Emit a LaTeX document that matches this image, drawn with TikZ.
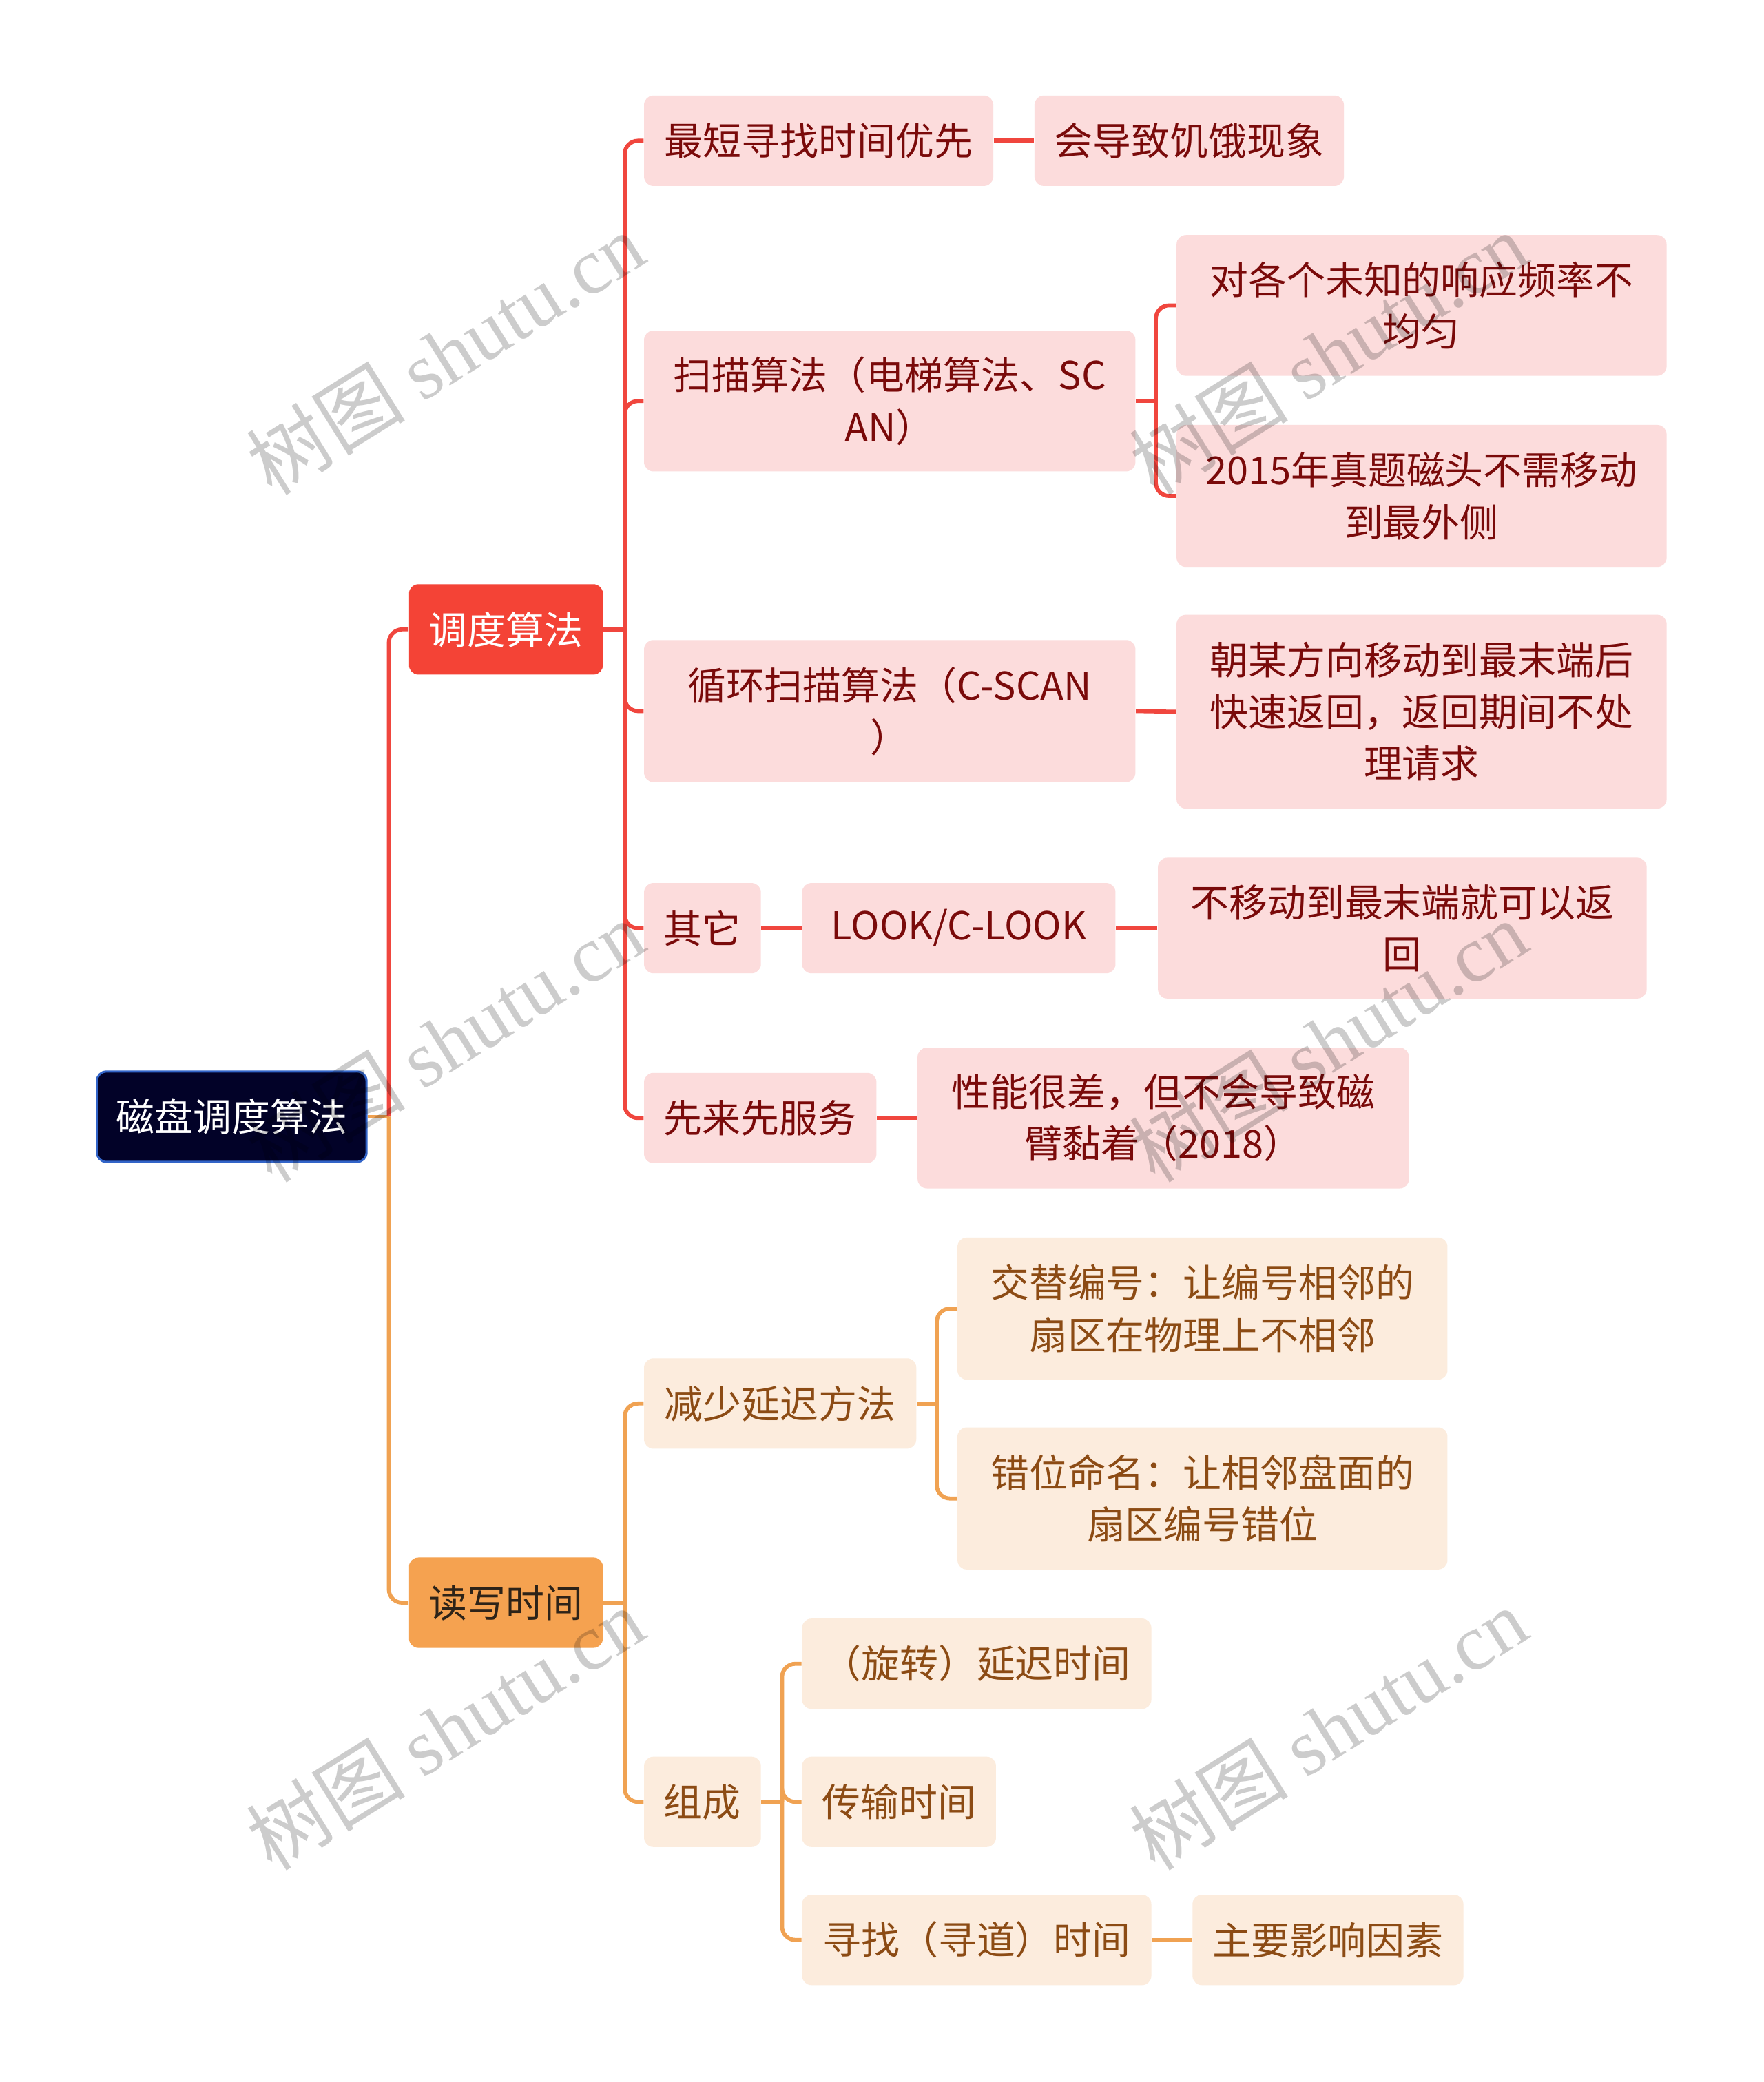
\documentclass[tikz,border=0pt]{standalone}
\usepackage{fontspec}
\setmainfont{Noto Sans CJK SC}
\newfontfamily\wmlatin{Liberation Serif}
\usetikzlibrary{calc}
\definecolor{rline}{RGB}{240,70,62}
\definecolor{redfill}{RGB}{244,67,54}
\definecolor{pinkfill}{RGB}{252,220,220}
\definecolor{maroon}{RGB}{122,10,10}
\definecolor{oline}{RGB}{240,162,82}
\definecolor{orfill}{RGB}{245,162,80}
\definecolor{peach}{RGB}{252,236,221}
\definecolor{brownt}{RGB}{140,75,20}
\definecolor{darkt}{RGB}{45,35,24}
\definecolor{rootfill}{RGB}{2,2,40}
\definecolor{rootborder}{RGB}{50,100,200}
\newcommand\fs{\fontsize{14.5pt}{19.5pt}\selectfont}
\newcommand\nd[6]{\node[#1, minimum width=#4*0.5pt, minimum height=#5*0.5pt] (#2) at #3 {#6};}
\tikzset{
  basebox/.style={rounded corners=3.5pt, inner sep=0pt, align=center, font=\fs},
  pk/.style={basebox, fill=pinkfill, text=maroon},
  pe/.style={basebox, fill=peach, text=brownt},
  rootbox/.style={basebox, fill=rootfill, draw=rootborder, line width=0.8pt, text=white},
  redbox/.style={basebox, fill=redfill, text=white},
  orbox/.style={basebox, fill=orfill, text=darkt},
  rl/.style={draw=rline, line width=1.5pt},
  ol/.style={draw=oline, line width=1.5pt},
  rc/.style={rounded corners=5pt},
  wm/.style={rotate=32, text=black, text opacity=0.2, font=\fontsize{30pt}{30pt}\selectfont}
}
\begin{document}
\begin{tikzpicture}[x=0.5pt,y=-0.5pt]
\fill[white] (0,0) rectangle (1328,1568);
\useasboundingbox (0,0) rectangle (1328,1568);

% nodes
\nd{rootbox}{root}{(174.5,841)}{203}{68}{磁盘调度算法}
\nd{redbox}{n1}{(381,474)}{146}{68}{调度算法}
\nd{orbox}{n2}{(381,1207)}{146}{68}{读写时间}

\nd{pk}{a1}{(616.5,106)}{263}{68}{最短寻找时间优先}
\nd{pk}{a1b}{(895.5,106)}{233}{68}{会导致饥饿现象}
\nd{pk}{a2}{(670,302)}{370}{106}{扫描算法（电梯算法、SC\\AN）}
\nd{pk}{a2a}{(1070.5,230)}{369}{106}{对各个未知的响应频率不\\均匀}
\nd{pk}{a2b}{(1070.5,373.5)}{369}{107}{2015年真题磁头不需移动\\到最外侧}
\nd{pk}{a3}{(670,535.5)}{370}{107}{循环扫描算法（C-SCAN\\）}
\nd{pk}{a3a}{(1070.5,536)}{369}{146}{朝某方向移动到最末端后\\快速返回，返回期间不处\\理请求}
\nd{pk}{a4}{(529,699)}{88}{68}{其它}
\nd{pk}{a4a}{(722,699)}{236}{68}{LOOK/C-LOOK}
\nd{pk}{a4b}{(1056,699)}{368}{106}{不移动到最末端就可以返\\回}
\nd{pk}{a5}{(572.5,842)}{175}{68}{先来先服务}
\nd{pk}{a5a}{(876,842)}{370}{106}{性能很差，但不会导致磁\\臂黏着（2018）}

\nd{pe}{b1}{(587.5,1057)}{205}{68}{减少延迟方法}
\nd{pe}{b1a}{(905.5,985.5)}{369}{107}{交替编号：让编号相邻的\\扇区在物理上不相邻}
\nd{pe}{b1b}{(905.5,1128.5)}{369}{107}{错位命名：让相邻盘面的\\扇区编号错位}
\nd{pe}{b2}{(529,1357)}{88}{68}{组成}
\nd{pe}{b2a}{(735.5,1253)}{263}{68}{（旋转）延迟时间}
\nd{pe}{b2b}{(677,1357)}{146}{68}{传输时间}
\nd{pe}{b2c}{(735.5,1461)}{263}{68}{寻找（寻道）时间}
\nd{pe}{b2d}{(1000,1461)}{204}{68}{主要影响因素}

% connectors: root
\draw[ol] (root.east) -- ++(16,0) coordinate (rj);
\draw[rl,rc] (rj) |- (n1.west);
\draw[ol,rc] (rj) |- (n2.west);

% 调度算法
\draw[rl] (n1.east) -- ++(16,0) coordinate (j1);
\foreach \c in {a1,a2,a3,a4,a5} \draw[rl,rc] (j1) |- (\c.west);
\draw[rl] (a1.east) -- (a1b.west);
\draw[rl] (a2.east) -- ++(15,0) coordinate (j2);
\draw[rl,rc] (j2) |- (a2a.west);
\draw[rl,rc] (j2) |- (a2b.west);
\draw[rl] (a3.east) -- (a3a.west);
\draw[rl] (a4.east) -- (a4a.west);
\draw[rl] (a4a.east) -- (a4b.west);
\draw[rl] (a5.east) -- (a5a.west);

% 读写时间
\draw[ol] (n2.east) -- ++(16,0) coordinate (k1);
\draw[ol,rc] (k1) |- (b1.west);
\draw[ol,rc] (k1) |- (b2.west);
\draw[ol] (b1.east) -- ++(15,0) coordinate (k2);
\draw[ol,rc] (k2) |- (b1a.west);
\draw[ol,rc] (k2) |- (b1b.west);
\draw[ol] (b2.east) -- ++(15.5,0) coordinate (k3);
\foreach \c in {b2a,b2b,b2c} \draw[ol,rc] (k3) |- (\c.west);
\draw[ol] (b2c.east) -- (b2d.west);

% watermarks
\foreach \p [count=\i] in {(335,266),(1000,266),(335,784),(1000,784),(335,1302),(1000,1302)}
  \node[wm] (wm\i) at \p {树图 {\wmlatin shutu.cn}};
\end{tikzpicture}
\end{document}
